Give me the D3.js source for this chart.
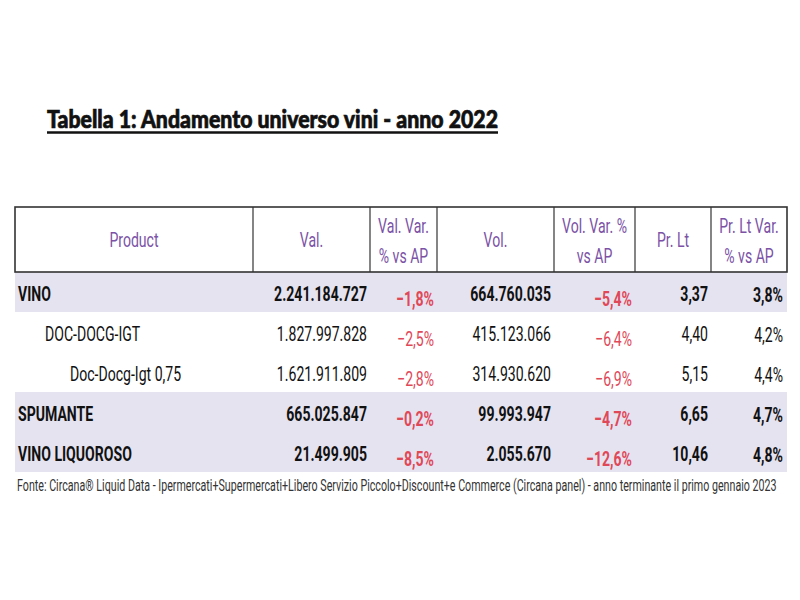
<!DOCTYPE html>
<html>
<head>
<meta charset="utf-8">
<script src="https://cdn.jsdelivr.net/npm/d3@7"></script>
<style>
  html, body { margin: 0; padding: 0; background: #fff; }
  svg { display: block; }
</style>
</head>
<body>
<svg id="chart" width="800" height="600"></svg>
<script>
// ---- Data ----
const title = "Tabella 1:  Andamento universo vini - anno 2022";
const headers = [
  ["Product"], ["Val."], ["Val. Var.", "% vs AP"], ["Vol."],
  ["Vol. Var. %", "vs AP"], ["Pr. Lt"], ["Pr. Lt Var.", "% vs AP"]
];
const products = ["VINO", "DOC-DOCG-IGT", "Doc-Docg-Igt 0,75", "SPUMANTE", "VINO LIQUOROSO"];
const levels   = [0, 1, 2, 0, 0];
const valori   = [2241184727, 1827997828, 1621911809, 665025847, 21499905];
const valVar   = [-1.8, -2.5, -2.8, -0.2, -8.5];
const volumi   = [664760035, 415123066, 314930620, 99993947, 2055670];
const volVar   = [-5.4, -6.4, -6.9, -4.7, -12.6];
const prezzi   = [3.37, 4.40, 5.15, 6.65, 10.46];
const prezVar  = [3.8, 4.2, 4.4, 4.7, 4.8];
const footnote = "Fonte: Circana® Liquid Data - Ipermercati+Supermercati+Libero Servizio Piccolo+Discount+e Commerce (Circana panel) - anno terminante il primo gennaio 2023";

// ---- Layout ----
const svg = d3.select("#chart");
const colEdges = [15, 253, 370, 437, 554, 635, 711, 787];
const headTop = 207, headBottom = 272, tableBottom = 472;
const SX = 0.67;             // horizontal condensation (Roboto -> condensed look)
const FS = 21;
const FONT = "Roboto, 'Liberation Sans', sans-serif";

const it = d3.formatLocale({decimal: ",", thousands: ".", grouping: [3], currency: ["€", ""]});
const fInt = it.format(",d");
const f2 = it.format(",.2f");
const fPct = v => it.format(",.1f")(v) + "%";

const rows = d3.range(products.length);
const y = d3.scaleBand().domain(rows).range([headBottom, tableBottom]);

// Row bands (shaded for bold top-level rows)
svg.append("g").selectAll("rect")
  .data(rows.filter(i => levels[i] === 0))
  .join("rect")
  .attr("x", colEdges[0]).attr("width", colEdges[colEdges.length-1] - colEdges[0])
  .attr("y", i => y(i)).attr("height", y.bandwidth())
  .attr("fill", "#e5e3f0");

// Title
svg.append("text")
  .attr("x", 47).attr("y", 128)
  .attr("font-family", "Lato, 'Open Sans', sans-serif")
  .attr("font-weight", 900).attr("font-size", 24)
  .attr("textLength", 451).attr("lengthAdjust", "spacingAndGlyphs")
  .attr("stroke", "#111").attr("stroke-width", 0.7)
  .attr("fill", "#111").text(title);
svg.append("line").attr("x1", 47).attr("x2", 498).attr("y1", 132.5).attr("y2", 132.5)
  .attr("stroke", "#111").attr("stroke-width", 2.5);

// Header box
const hg = svg.append("g");
hg.append("rect").attr("x", colEdges[0]).attr("y", headTop)
  .attr("width", colEdges[colEdges.length-1] - colEdges[0]).attr("height", headBottom - headTop)
  .attr("fill", "none").attr("stroke", "#333").attr("stroke-width", 1.6);
hg.selectAll("line.sep").data(colEdges.slice(1, -1)).join("line")
  .attr("class", "sep")
  .attr("x1", d => d).attr("x2", d => d).attr("y1", headTop).attr("y2", headBottom)
  .attr("stroke", "#333").attr("stroke-width", 1.2);

headers.forEach((lines, c) => {
  const cx = (colEdges[c] + colEdges[c+1]) / 2;
  const baselines = lines.length === 1 ? [247] : [232.5, 262.5];
  lines.forEach((ln, k) => {
    hg.append("text")
      .attr("transform", `translate(${cx},${baselines[k]}) scale(${SX},1)`)
      .attr("text-anchor", "middle")
      .attr("font-family", FONT).attr("font-size", FS)
      .attr("fill", "#7b52a6").text(ln);
  });
});

// Body
const bg = svg.append("g");
const indent = [18, 45, 70];
rows.forEach(i => {
  const top = y(i);
  const bold = levels[i] === 0;
  const weight = bold ? 700 : 400;
  const base = top + 29, pbase = top + 33.5;
  const cell = (x, yy, txt, color, anchor) => bg.append("text")
    .attr("transform", `translate(${x},${yy}) scale(${SX},1)`)
    .attr("text-anchor", anchor || "end")
    .attr("font-family", FONT).attr("font-size", FS).attr("font-weight", weight)
    .attr("fill", color).text(txt);
  cell(indent[levels[i]], base, products[i], "#111", "start");
  cell(colEdges[2] - 3, base, fInt(valori[i]), "#111");
  cell(colEdges[3] - 3, pbase, fPct(valVar[i]), valVar[i] < 0 ? "#e04858" : "#111");
  cell(colEdges[4] - 3, base, fInt(volumi[i]), "#111");
  cell(colEdges[5] - 3, pbase, fPct(volVar[i]), volVar[i] < 0 ? "#e04858" : "#111");
  cell(colEdges[6] - 3, base, f2(prezzi[i]), "#111");
  cell(colEdges[7] - 4, pbase - 4, fPct(prezVar[i]), prezVar[i] < 0 ? "#e04858" : "#111");
});

// Footnote (condensed by a horizontal scale so it spans the table width)
const fn = svg.append("text")
  .attr("font-family", FONT).attr("font-size", 17)
  .attr("fill", "#333").text(footnote);
const natural = fn.node().getComputedTextLength();
const fsx = 760 / natural;
fn.attr("transform", `translate(17,491) scale(${fsx},1)`);
</script>
</body>
</html>
